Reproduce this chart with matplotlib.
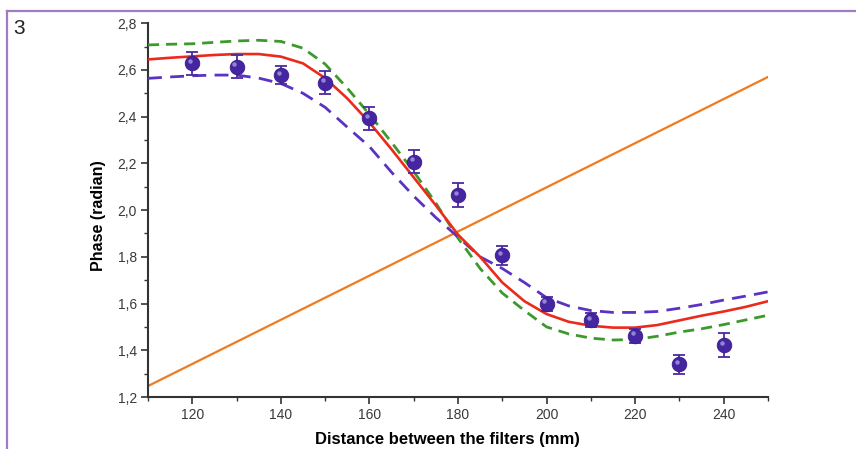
import matplotlib
matplotlib.use("Agg")
import matplotlib.pyplot as plt
from matplotlib.lines import Line2D
from matplotlib.ticker import MultipleLocator, FuncFormatter
import matplotlib.transforms as mtransforms

plt.rcParams['font.family'] = ['Liberation Sans', 'DejaVu Sans']

# Measured phase with error bars
dist_meas = [120, 130, 140, 150, 160, 170, 180, 190, 200, 210, 220, 230, 240]
phase_meas = [2.628, 2.614, 2.578, 2.545, 2.393, 2.207, 2.064, 1.807, 1.600, 1.529, 1.462, 1.340, 1.422]
phase_err = [0.05, 0.05, 0.04, 0.05, 0.05, 0.05, 0.05, 0.04, 0.03, 0.03, 0.03, 0.04, 0.05]

# Model curves sampled every 5 mm
dist_curve = [110, 115, 120, 125, 130, 135, 140, 145, 150, 155, 160, 165, 170, 175, 180,
              185, 190, 195, 200, 205, 210, 215, 220, 225, 230, 235, 240, 245, 250]
phase_fit = [2.645, 2.652, 2.658, 2.664, 2.668, 2.668, 2.657, 2.628, 2.565, 2.478, 2.375,
             2.260, 2.140, 2.020, 1.895, 1.800, 1.690, 1.610, 1.555, 1.522, 1.505, 1.497,
             1.497, 1.508, 1.528, 1.548, 1.566, 1.586, 1.610]
phase_upper = [2.707, 2.710, 2.712, 2.718, 2.724, 2.727, 2.722, 2.693, 2.625, 2.522, 2.410,
               2.290, 2.165, 2.030, 1.880, 1.750, 1.645, 1.570, 1.500, 1.470, 1.452, 1.444,
               1.446, 1.460, 1.478, 1.492, 1.510, 1.530, 1.550]
phase_lower = [2.564, 2.570, 2.575, 2.578, 2.578, 2.565, 2.542, 2.500, 2.440, 2.355, 2.272,
               2.162, 2.060, 1.968, 1.885, 1.800, 1.750, 1.690, 1.625, 1.590, 1.570, 1.562,
               1.562, 1.566, 1.580, 1.596, 1.615, 1.632, 1.650]

# Linear reference line
dist_line = [110, 250]
phase_line = [1.247, 2.570]

x_ticks = [120, 140, 160, 180, 200, 220, 240]
y_ticks = [1.2, 1.4, 1.6, 1.8, 2.0, 2.2, 2.4, 2.6, 2.8]

fig = plt.figure(figsize=(8.56, 4.49), dpi=100)
ax = fig.add_axes([0.1729, 0.1158, 0.7243, 0.8325])

ax.plot(dist_line, phase_line, color='#f07a1e', lw=1.6, zorder=2)
ax.plot(dist_curve, phase_upper, color='#3c9a2c', lw=2.0, dashes=(4, 2.5), zorder=3,
        solid_joinstyle='round', dash_joinstyle='round')
ax.plot(dist_curve, phase_lower, color='#5a33c4', lw=2.0, dashes=(5, 3), zorder=3,
        dash_joinstyle='round')
ax.plot(dist_curve, phase_fit, color='#ec2a1c', lw=1.9, zorder=4, solid_joinstyle='round')

ax.errorbar(dist_meas, phase_meas, yerr=phase_err, fmt='none', ecolor='#4a2aa0',
            elinewidth=1.3, capsize=4.5, capthick=1.3, zorder=5)
ax.plot(dist_meas, phase_meas, 'o', color='#4626a0', ms=10.5, mec='#3a1c8c', mew=0.6, zorder=6)
hl = mtransforms.offset_copy(ax.transData, fig=fig, x=-1.5, y=1.8, units='points')
ax.plot(dist_meas, phase_meas, 'o', color='#9c8ee0', ms=3.2, mec='none', transform=hl,
        zorder=7, alpha=0.9)

ax.set_xlim(110, 250)
ax.set_ylim(1.2, 2.8)
ax.set_xticks(x_ticks)
ax.set_yticks(y_ticks)
ax.xaxis.set_minor_locator(MultipleLocator(10))
ax.yaxis.set_minor_locator(MultipleLocator(0.1))
ax.yaxis.set_major_formatter(FuncFormatter(lambda v, p: f"{v:.1f}".replace('.', ',')))

for s in ['top', 'right']:
    ax.spines[s].set_visible(False)
for s in ['left', 'bottom']:
    ax.spines[s].set_color('#333333')
    ax.spines[s].set_linewidth(1.5)

ax.tick_params(which='major', direction='out', length=5, width=1.2, color='#333333',
               labelsize=10, labelcolor='#3a3a3a', pad=3)
ax.tick_params(which='minor', direction='out', length=3, width=1.0, color='#333333')

ax.set_xlabel('Distance between the filters (mm)', fontsize=12, fontweight='bold',
              labelpad=7, x=0.483)
ax.set_ylabel('Phase (radian)', fontsize=11.5, fontweight='bold', labelpad=8, y=0.485)

# Outer frame and panel number
frame_col = '#a27cc2'
fig.add_artist(Line2D([7 / 856, 1.0], [1 - 11 / 449, 1 - 11 / 449], transform=fig.transFigure,
                      color=frame_col, lw=1.6))
fig.add_artist(Line2D([7 / 856, 7 / 856], [0, 1 - 11 / 449], transform=fig.transFigure,
                      color=frame_col, lw=1.6))
fig.text(13 / 856, 1 - 19 / 449, '3', fontsize=15, color='#222222', va='top', ha='left')

fig.savefig('out.png', dpi=100, facecolor='white')
